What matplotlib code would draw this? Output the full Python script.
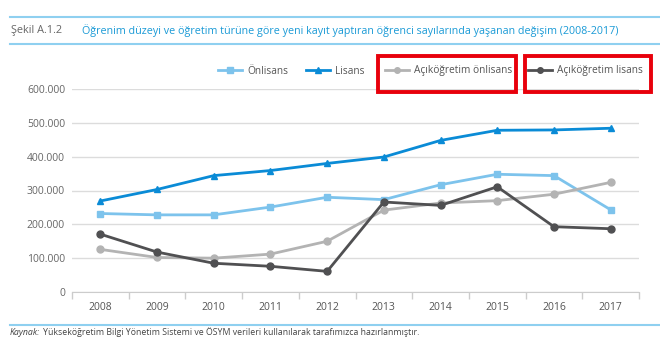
import matplotlib
matplotlib.use("Agg")
import matplotlib.pyplot as plt
from matplotlib.patches import Rectangle
from matplotlib.lines import Line2D
from matplotlib.ticker import FuncFormatter

plt.rcParams["font.family"] = ["Open Sans", "DejaVu Sans"]

years = ["2008", "2009", "2010", "2011", "2012", "2013", "2014", "2015", "2016", "2017"]
onlisans = [232000, 228000, 228000, 251000, 280000, 273000, 317000, 348000, 344000, 243000]
lisans = [269000, 303000, 344000, 359000, 380000, 399000, 448000, 478000, 479000, 484000]
acik_onlisans = [126000, 102000, 100000, 112000, 150000, 242000, 263000, 270000, 289000, 324000]
acik_lisans = [171000, 118000, 85000, 76000, 61000, 266000, 256000, 311000, 193000, 187000]

series = [
    ("Önlisans", onlisans, "#7dc3ec", "s"),
    ("Lisans", lisans, "#0a8bd6", "^"),
    ("Açıköğretim önlisans", acik_onlisans, "#b3b3b3", "o"),
    ("Açıköğretim lisans", acik_lisans, "#505052", "o"),
]
legend_x = [218, 306, 385, 528]   # left edge of each legend entry, px

W, H = 660, 350
fig = plt.figure(figsize=(W / 100, H / 100), dpi=100)
ax = fig.add_axes([72 / W, 1 - 292 / H, (639 - 72) / W, (292 - 89) / H])

x = list(range(len(years)))
for name, vals, col, mk in series:
    ax.plot(x, vals, color=col, lw=2, marker=mk, ms=5, label=name, zorder=3)

ax.set_xlim(-0.5, len(years) - 0.5)
ax.set_ylim(0, 600000)
ax.set_yticks(range(0, 600001, 100000))
ax.yaxis.set_major_formatter(FuncFormatter(lambda v, _: f"{int(v):,}".replace(",", ".")))
ax.set_xticks(x)
ax.set_xticklabels(years)
ax.set_xticks([i - 0.5 for i in range(len(years) + 1)], minor=True)
ax.tick_params(axis="x", which="major", length=0, pad=7, labelsize=7.5, labelcolor="#555555")
ax.tick_params(axis="x", which="minor", length=5, color="#cccccc", width=1)
ax.tick_params(axis="y", length=0, pad=5, labelsize=7.5, labelcolor="#666666")
ax.grid(axis="y", color="#dcdcdc", lw=1)
ax.set_axisbelow(True)
for s in ["top", "right", "left"]:
    ax.spines[s].set_visible(False)
ax.spines["bottom"].set_color("#cccccc")

# one legend per entry so each can sit at its own spot
for (name, _, col, mk), lx in zip(series, legend_x):
    h = Line2D([], [], color=col, lw=2, marker=mk, ms=4)
    fig.legend([h], [name], loc="center left", bbox_to_anchor=(lx / W, 1 - 71 / H),
               frameon=False, fontsize=7.3, handlelength=2.4, handletextpad=0.5,
               borderpad=0, borderaxespad=0, labelcolor="#555555")

# header and footer rules
blue_rule = "#8fd0f0"
fig.add_artist(Line2D([10 / W, 1], [1 - 17 / H] * 2, color=blue_rule, lw=1.5))
fig.add_artist(Line2D([10 / W, 1], [1 - 43.5 / H] * 2, color=blue_rule, lw=1.5))
fig.add_artist(Line2D([10 / W, 1], [1 - 325 / H] * 2, color=blue_rule, lw=1.5))
fig.text(11 / W, 1 - 31 / H, "Şekil A.1.2", fontsize=7.8, color="#666666", va="center")
fig.text(82 / W, 1 - 31 / H,
         "Öğrenim düzeyi ve öğretim türüne göre yeni kayıt yaptıran öğrenci sayılarında yaşanan değişim (2008-2017)",
         fontsize=7.75, color="#1a9ad6", va="center")
kaynak = fig.text(10 / W, 1 - 332.5 / H, "Kaynak:", fontsize=6.3, style="italic",
                  color="#444444", va="center")
fig.canvas.draw()
kx = kaynak.get_window_extent().x1
fig.text((kx + 3) / W, 1 - 332.5 / H,
         "Yükseköğretim Bilgi Yönetim Sistemi ve ÖSYM verileri kullanılarak tarafımızca hazırlanmıştır.",
         fontsize=6.3, color="#444444", va="center")

# highlight boxes around the open-education legend entries
for x0, x1 in [(378, 516), (525, 651)]:
    fig.add_artist(Rectangle((x0 / W, 1 - 92 / H), (x1 - x0) / W, 36 / H,
                             fill=False, edgecolor="#e8000b", lw=2.8))

fig.savefig("out.png", dpi=100)
